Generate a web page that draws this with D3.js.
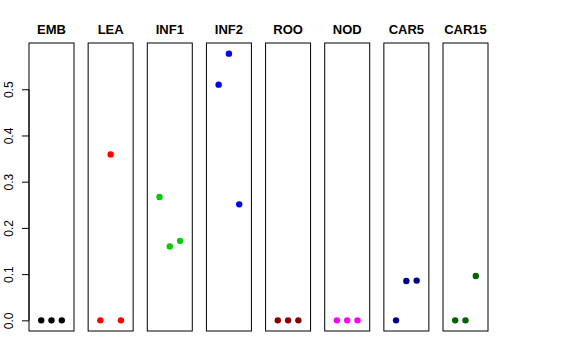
<!DOCTYPE html>
<html>
<head>
<meta charset="utf-8">
<script src="https://cdn.jsdelivr.net/npm/d3@7"></script>
<style>
  body { margin: 0; background: #fff; }
  svg { display: block; font-family: "Liberation Sans", Arial, sans-serif; }
</style>
</head>
<body>
<svg id="chart" width="576" height="360"></svg>
<script>
// tissues, one panel each
var tissues = ["EMB", "LEA", "INF1", "INF2", "ROO", "NOD", "CAR5", "CAR15"];
var colors = ["#000000", "#ff0000", "#00cd00", "#0000ff", "#8b0000", "#ff00ff", "#00008b", "#006400"];
// three replicate values per tissue
var rep1 = [0, 0, 0.267, 0.510, 0, 0, 0, 0];
var rep2 = [0, 0.359, 0.160, 0.577, 0, 0, 0.085, 0];
var rep3 = [0, 0, 0.172, 0.251, 0, 0, 0.086, 0.096];
var yTicks = [0, 0.1, 0.2, 0.3, 0.4, 0.5];

var svg = d3.select("#chart");
var panelW = 45;
var plotTop = 43, plotBottom = 331;

var ymax = d3.max([].concat(rep1, rep2, rep3));
var pad = ymax * 0.04;
var y = d3.scaleLinear().domain([-pad, ymax + pad]).range([plotBottom, plotTop]);
var panelX = d3.scaleLinear().domain([0, tissues.length - 1]).range([29, 443]);
var repX = d3.scalePoint().domain([0, 1, 2]).range([-10.3, 10.3]);

tissues.forEach(function(t, i) {
    var x0 = panelX(i);
    var cx = x0 + panelW / 2;
    var g = svg.append("g").attr("class", "panel");
    g.append("rect")
        .attr("x", x0)
        .attr("y", plotTop)
        .attr("width", panelW)
        .attr("height", plotBottom - plotTop)
        .attr("fill", "#fff")
        .attr("stroke", "#000")
        .attr("stroke-width", 1);
    g.append("text")
        .attr("x", cx)
        .attr("y", 34)
        .attr("text-anchor", "middle")
        .attr("font-size", "13px")
        .attr("font-weight", "bold")
        .text(t);
    var vals = [rep1[i], rep2[i], rep3[i]];
    g.selectAll("circle").data(vals).enter().append("circle")
        .attr("cx", function(d, j) { return cx + repX(j); })
        .attr("cy", function(d) { return y(d); })
        .attr("r", 3.2)
        .attr("fill", colors[i]);
});

// left axis, R style
var axis = d3.axisLeft(y).tickValues(yTicks).tickSize(7).tickFormat(d3.format(".1f"));
var ag = svg.append("g")
    .attr("transform", "translate(" + panelX(0) + ",0)")
    .call(axis);
ag.select(".domain")
    .attr("d", "M0," + y(0) + "V" + y(0.5))
    .attr("stroke", "#000");
ag.selectAll(".tick line").attr("stroke", "#000");
ag.selectAll(".tick text")
    .attr("font-size", "12px")
    .attr("font-family", "Liberation Sans, Arial, sans-serif")
    .attr("fill", "#000")
    .attr("text-anchor", "middle")
    .attr("x", null)
    .attr("dy", null)
    .attr("transform", "translate(-16,0) rotate(-90)")
    .attr("y", 0);
</script>
</body>
</html>
